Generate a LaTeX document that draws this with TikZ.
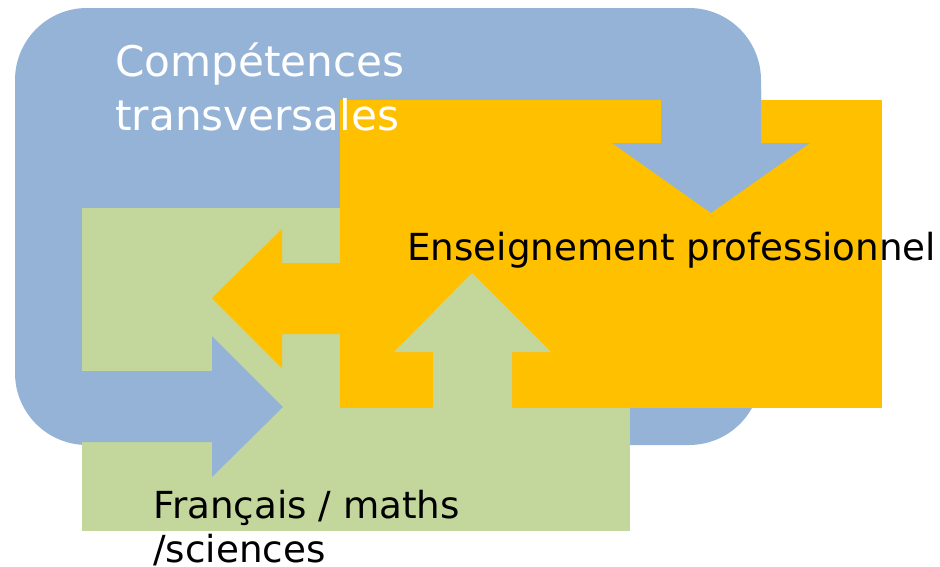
\documentclass[tikz,border=0pt]{standalone}
\usepackage{fontspec}
\setmainfont{DejaVu Sans}
\usepackage{tikz}

\definecolor{bleu}{HTML}{95B3D7}
\definecolor{vert}{HTML}{C3D69B}
\definecolor{jaune}{HTML}{FFC000}

\begin{document}
\begin{tikzpicture}[x=0.025cm,y=-0.025cm,
		label/.style={anchor=base west, align=left, inner sep=0pt}]
		\useasboundingbox (0,0) rectangle (940,566);
		
		\fill[bleu, rounded corners=1.8cm] (15,8) rectangle (761,445);
		\fill[vert] (82,208) rectangle (630,531);
		\fill[jaune] (340,100) rectangle (882,408);
		
		% fleches
		\fill[bleu] (661,90) -- (661,143) -- (612,143) -- (711,213) -- (810,143) -- (761,143) -- (761,90) -- cycle;
		\fill[vert] (433,408) -- (433,352) -- (394,352) -- (472,273) -- (551,352) -- (512,352) -- (512,408) -- cycle;
		\fill[jaune] (340,263) -- (282,263) -- (282,229) -- (212,298) -- (282,368) -- (282,334) -- (340,334) -- cycle;
		\fill[bleu] (82,371) -- (212,371) -- (212,336) -- (283,407) -- (212,477) -- (212,442) -- (82,442) -- cycle;
		
		% base = derniere ligne
		\node[label, text=white, font=\fontsize{30}{37.7}\selectfont] (transv) at (115,130) {Compétences\\transversales};
		\node[label, font=\fontsize{26.5}{30.6}\selectfont] (pro) at (407,260) {Enseignement professionnel};
		\node[label, font=\fontsize{26.5}{30.6}\selectfont] (gen) at (153,562) {Français / maths\\/sciences};

	\end{tikzpicture}
\end{document}
